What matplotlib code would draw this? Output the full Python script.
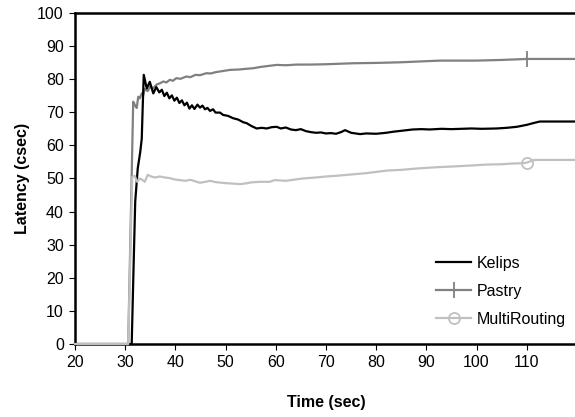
import matplotlib.pyplot as plt
from matplotlib.legend_handler import HandlerLine2D

plt.rcParams['font.family'] = ['Liberation Sans', 'DejaVu Sans']

# latency traces (time in sec, latency in csec)
kelips_t = [20, 31.3, 31.7, 32.0, 32.5, 33.0, 33.3, 33.5, 33.7, 34.3, 34.9, 35.6, 36.2,
            36.8, 37.3, 37.8, 38.3, 38.8, 39.3, 39.8, 40.3, 40.8, 41.3, 41.8, 42.3,
            42.8, 43.3, 43.8, 44.4, 44.9, 45.4, 45.9, 46.4, 46.9, 47.5, 48.0, 48.9,
            49.5, 50.5, 51.5, 52.5, 53.5, 54.2, 55.2, 56.2, 57.2, 58.2, 59.2, 60.2,
            61, 62, 63, 64, 65, 66, 67, 68, 69, 70, 71, 72, 73, 73.8, 75, 76.8, 78,
            80, 82, 83.3, 85, 87.3, 89, 90.7, 93, 95, 97, 99, 101, 104, 106, 108,
            110, 111.5, 112.6, 120]
kelips_v = [0, 0, 25, 43, 53, 58, 62, 72, 81.3, 77.2, 79.2, 75.7, 77.6,
            76.0, 76.8, 74.9, 75.9, 74.2, 75.1, 73.5, 74.4, 72.8, 73.6, 72.1, 72.9,
            71.1, 72.1, 71.0, 72.3, 71.4, 72.0, 70.9, 71.3, 70.4, 70.9, 69.9, 69.9,
            69.2, 68.9, 68.2, 67.8, 67.0, 66.7, 65.8, 65.1, 65.3, 65.1, 65.5, 65.6,
            65.1, 65.4, 64.8, 64.6, 64.9, 64.3, 64.0, 63.8, 63.9, 63.6, 63.7, 63.5, 64.0,
            64.6, 63.8, 63.4, 63.6, 63.5, 63.8, 64.1, 64.4, 64.8, 64.9, 64.8,
            65.0, 64.9, 65.0, 65.1, 65.0, 65.1, 65.3, 65.6, 66.2, 66.8, 67.2, 67.2]

pastry_t = [20, 30.6, 31.6, 32.0, 32.3, 32.6, 32.9, 33.3, 33.6, 33.9, 34.5, 35.0, 35.5,
            36.3, 37.0, 37.6, 38.2, 38.9, 39.5, 40.2, 41, 42.2, 43, 44, 44.9, 46.2,
            47, 48, 50.9, 52.5, 55.5, 57, 60.2, 62, 64.2, 66.8, 70, 75.4, 80, 85,
            92.7, 100, 105, 110, 120]
pastry_v = [0, 0, 73.2, 72.0, 71.3, 74.7, 74.2, 75.7, 75.2, 77.0, 76.4, 77.8, 77.2,
            78.4, 78.8, 79.3, 79.0, 79.8, 79.5, 80.3, 80.1, 80.8, 80.6, 81.3, 81.2,
            81.8, 81.7, 82.1, 82.8, 82.9, 83.3, 83.7, 84.3, 84.2, 84.4, 84.4, 84.5,
            84.8, 84.9, 85.1, 85.6, 85.6, 85.8, 86.1, 86.1]

multi_t = [20, 30.6, 31.4, 31.9, 32.4, 32.9, 33.4, 33.9, 34.5, 35.2, 35.9, 36.9, 37.9,
           38.9, 39.9, 40.9, 42, 43, 44.9, 46, 46.9, 48, 50, 51, 52.9, 54, 55, 56.9,
           58.8, 59.8, 62, 65.4, 68, 70, 72, 75, 78, 82.2, 85, 88, 92, 95, 98.7, 102,
           105, 107, 109.2, 110, 111.5, 112.6, 120]
multi_v = [0, 0, 50.5, 50.8, 49.0, 50.0, 49.6, 49.0, 51.1, 50.6, 50.3, 50.6, 50.3,
           50.1, 49.7, 49.5, 49.3, 49.6, 48.7, 49.0, 49.3, 48.9, 48.6, 48.5, 48.3,
           48.5, 48.8, 49.0, 49.0, 49.5, 49.3, 50.0, 50.3, 50.6, 50.8, 51.2, 51.6,
           52.4, 52.6, 53.0, 53.4, 53.6, 53.9, 54.2, 54.3, 54.5, 54.6, 54.8, 55.6,
           55.6, 55.6]

x_ticks = [20, 30, 40, 50, 60, 70, 80, 90, 100, 110]
y_ticks = [0, 10, 20, 30, 40, 50, 60, 70, 80, 90, 100]


class MarkerRight(HandlerLine2D):
    # put the legend marker near the right end of the sample line
    def get_xdata(self, legend, xdescent, ydescent, width, height, fontsize):
        xdata = [-xdescent, -xdescent + width]
        return xdata, [-xdescent + 0.78 * width]


fig = plt.figure(figsize=(5.75, 4.17), dpi=100)
ax = fig.add_axes([0.1304, 0.175, 0.873, 0.794])

ax.plot(kelips_t, kelips_v, color='black', lw=1.6, zorder=4, clip_on=False, label='Kelips')
ax.plot(pastry_t, pastry_v, color='#808080', lw=1.6, zorder=3, clip_on=False,
        marker='|', ms=11, mew=1.3, markevery=[pastry_t.index(110)], label='Pastry')
ax.plot(multi_t, multi_v, color='#c0c0c0', lw=1.6, zorder=5, clip_on=False,
        marker='o', ms=8, mfc='none', mew=1.3, markevery=[multi_t.index(110)],
        label='MultiRouting')

ax.set_xlim(20, 120)
ax.set_ylim(0, 100)
ax.set_xticks(x_ticks)
ax.set_yticks(y_ticks)
ax.tick_params(direction='out', length=4, width=0.8, labelsize=11.5, pad=4)

for s in ['top', 'left', 'bottom']:
    ax.spines[s].set_linewidth(1.8)
ax.spines['right'].set_visible(False)

ax.set_xlabel('Time (sec)', fontsize=11.5, fontweight='bold', labelpad=18)
ax.set_ylabel('Latency (csec)', fontsize=11.5, fontweight='bold', labelpad=5)

leg = ax.legend(loc='upper left', bbox_to_anchor=(0.691, 0.31), frameon=False,
                fontsize=11.5, handlelength=2.2, handletextpad=0.35, labelspacing=0.82,
                handler_map={plt.Line2D: MarkerRight()})

fig.savefig('out.png', dpi=100)
